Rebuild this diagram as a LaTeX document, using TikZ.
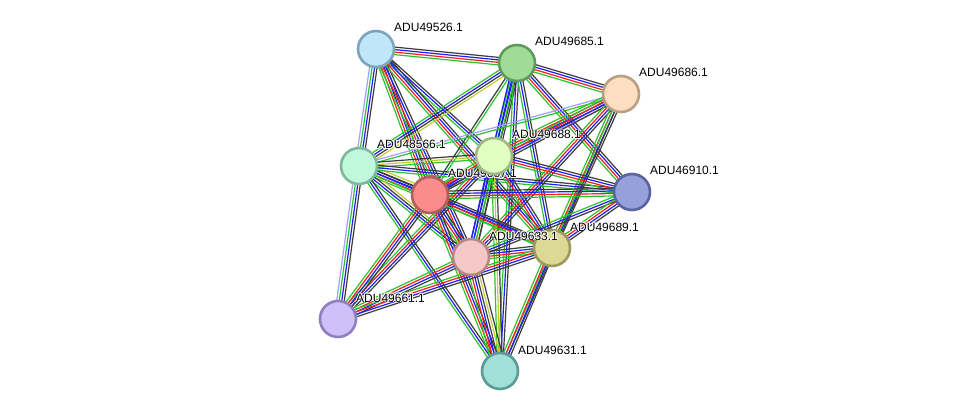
\documentclass[tikz,border=0pt]{standalone}
\usepackage{fontspec}
\setmainfont{Liberation Sans}
\usetikzlibrary{calc}

\definecolor{sgreen}{RGB}{45,195,45}
\definecolor{sred}{RGB}{250,30,30}
\definecolor{sblue}{RGB}{30,30,250}
\definecolor{sblack}{RGB}{60,60,60}
\definecolor{slblue}{RGB}{160,160,255}
\definecolor{syellow}{RGB}{195,205,50}

% bundle of parallel lines between two proteins
\newcommand{\link}[3]{%
  \xdef\nlink{0}%
  \foreach \c in {#3}{\pgfmathtruncatemacro\t{\nlink+1}\xdef\nlink{\t}}%
  \foreach \c [count=\i] in {#3}{%
    \pgfmathsetmacro\o{(\i-(\nlink+1)/2)*2.5}%
    \draw[evidence,color=\c] ($(#1)!\o pt!90:(#2)$) -- ($(#2)!\o pt!-90:(#1)$);}%
}
% protein name with a thin white halo
\newcommand{\plab}[3]{%
  \foreach \dx/\dy in {-0.9/0,0.9/0,0/-0.9,0/0.9,-0.7/-0.7,0.7/0.7,-0.7/0.7,0.7/-0.7}
    \node[plabel,text=white] at ($(#2)+(18+\dx,-17+\dy)$) {#3};
  \node[plabel] (#1) at ($(#2)+(18,-17)$) {#3};%
}

\begin{document}
\begin{tikzpicture}[x=1pt,y=-1pt]
  \tikzset{
    protein/.style={circle,minimum size=36pt,inner sep=0pt,line width=2.6pt},
    evidence/.style={line width=1.2pt},
    plabel/.style={anchor=base west,font=\fontsize{12}{14}\selectfont,inner sep=0pt}
  }
  \useasboundingbox[fill=white] (0,0) rectangle (975,417);

  \coordinate (a526) at (376,49);
  \coordinate (a685) at (517,63);
  \coordinate (a686) at (621,94);
  \coordinate (a566) at (359,166);
  \coordinate (a688) at (494,156);
  \coordinate (a687) at (430,195);
  \coordinate (a910) at (632,192);
  \coordinate (a633) at (471,257);
  \coordinate (a689) at (552,248);
  \coordinate (a661) at (338,319);
  \coordinate (a631) at (500,371);

  % edges
  \link{a526}{a685}{sgreen,sred,sblue,sblack}
  \link{a526}{a566}{slblue,sgreen,sblue,sblack}
  \link{a526}{a687}{sgreen,sred,sblue,sblack}
  \link{a526}{a688}{sgreen,sblue,sblack}
  \link{a526}{a633}{sgreen,sred,sblue,sblack}
  \link{a526}{a689}{sgreen,sred,sblue,sblack}
  \link{a685}{a686}{sgreen,sred,sblue,sblack}
  \link{a685}{a566}{sgreen,sblue,sblack,syellow}
  \link{a685}{a687}{sblack,sgreen}
  \link{a685}{a688}{sgreen,sblue,sblack}
  \link{a685}{a633}{sblue,sblue,sgreen,sblack}
  \link{a685}{a631}{sgreen,sblue,sblack}
  \link{a685}{a689}{sgreen,sblue,sblack}
  \link{a685}{a910}{sgreen,sred,sblue,sblack}
  \link{a686}{a566}{slblue,sgreen}
  \link{a686}{a688}{sgreen,sred,sblue,sblack,slblue}
  \link{a686}{a687}{sgreen,sred,sblue,sblack}
  \link{a686}{a633}{sgreen,sred,sblue,sblack}
  \link{a686}{a689}{sgreen,sred,sblue,sblack}
  \link{a686}{a631}{sgreen,sblack}
  \link{a566}{a688}{sgreen,syellow,sblack}
  \link{a566}{a687}{sgreen,sred,sblue,sblack,syellow}
  \link{a566}{a910}{sgreen,sblue,sblack}
  \link{a566}{a633}{sgreen,sblue,sblack,syellow}
  \link{a566}{a689}{sgreen,sblue,sblack}
  \link{a566}{a661}{slblue,sgreen,sblue,sblack}
  \link{a566}{a631}{sgreen,sblue,sblack}
  \link{a688}{a687}{sgreen,sred,sblue,sblack}
  \link{a688}{a910}{sgreen,sred,sblue,sblack}
  \link{a688}{a633}{sblue,sblue,sgreen,sblack}
  \link{a688}{a689}{sgreen,sred,sblue,sblack}
  \link{a688}{a661}{sgreen,sred,sblue,sblack}
  \link{a688}{a631}{sgreen,syellow,sblack}
  \link{a687}{a910}{sgreen,sred,sblue,sblack}
  \link{a687}{a633}{sgreen,sred,sblue,sblack}
  \link{a687}{a689}{sgreen,sred,sblue,sblack}
  \link{a687}{a661}{sgreen,sred,sblue,sblack}
  \link{a687}{a631}{sgreen,sred,sblue,sblack}
  \link{a910}{a633}{sgreen,sblue,sblack}
  \link{a910}{a689}{sgreen,sred,sblue,sblack}
  \link{a633}{a689}{sgreen,sred,sblue,sblack}
  \link{a633}{a661}{sgreen,sred,sblue,sblack}
  \link{a633}{a631}{sgreen,sred,sblue,sblack,syellow,sblack}
  \link{a689}{a661}{sgreen,sred,sblue,sblack}
  \link{a689}{a631}{sgreen,sred,sblue,sblack}

  % proteins
  \node[protein,draw={rgb,255:red,125;green,165;blue,190},fill={rgb,255:red,192;green,230;blue,250}] (p526) at (a526) {};
  \node[protein,draw={rgb,255:red,95;green,155;blue,90},fill={rgb,255:red,160;green,220;blue,150}] (p685) at (a685) {};
  \node[protein,draw={rgb,255:red,185;green,160;blue,130},fill={rgb,255:red,253;green,222;blue,192}] (p686) at (a686) {};
  \node[protein,draw={rgb,255:red,128;green,185;blue,154},fill={rgb,255:red,192;green,248;blue,220}] (p566) at (a566) {};
  \node[protein,draw={rgb,255:red,176;green,95;blue,95},fill={rgb,255:red,252;green,140;blue,140}] (p687) at (a687) {};
  \node[protein,draw={rgb,255:red,90;green,98;blue,160},fill={rgb,255:red,152;green,160;blue,220}] (p910) at (a910) {};
  \node[protein,draw={rgb,255:red,180;green,136;blue,136},fill={rgb,255:red,245;green,200;blue,200}] (p633) at (a633) {};
  \node[protein,draw={rgb,255:red,158;green,154;blue,92},fill={rgb,255:red,220;green,216;blue,150}] (p689) at (a689) {};
  \node[protein,draw={rgb,255:red,143;green,127;blue,191},fill={rgb,255:red,208;green,192;blue,250}] (p661) at (a661) {};
  \node[protein,draw={rgb,255:red,90;green,156;blue,148},fill={rgb,255:red,160;green,224;blue,216}] (p631) at (a631) {};
  \plab{l687}{a687}{ADU49687.1}
  \node[protein,draw={rgb,255:red,160;green,183;blue,138},fill={rgb,255:red,224;green,255;blue,192}] (p688) at (a688) {};

  % labels
  \plab{l526}{a526}{ADU49526.1}
  \plab{l685}{a685}{ADU49685.1}
  \plab{l686}{a686}{ADU49686.1}
  \plab{l566}{a566}{ADU48566.1}
  \plab{l688}{a688}{ADU49688.1}
  \plab{l910}{a910}{ADU46910.1}
  \plab{l633}{a633}{ADU49633.1}
  \plab{l689}{a689}{ADU49689.1}
  \plab{l661}{a661}{ADU49661.1}
  \plab{l631}{a631}{ADU49631.1}
\end{tikzpicture}
\end{document}
